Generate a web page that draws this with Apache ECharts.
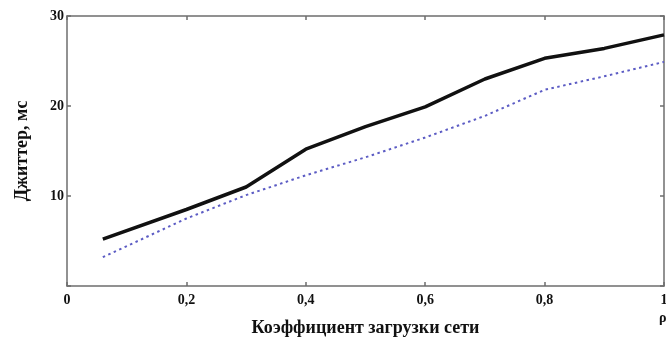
<!DOCTYPE html>
<html>
<head>
<meta charset="utf-8">
<script src="https://cdn.jsdelivr.net/npm/echarts@6/dist/echarts.min.js"></script>
<style>
  html, body { margin: 0; padding: 0; background: #fff; }
  #chart { width: 666px; height: 341px; }
</style>
</head>
<body>
<div id="chart"></div>
<script>
// load factor (x) and jitter values, ms
const rho = [0.06, 0.2, 0.3, 0.4, 0.5, 0.6, 0.7, 0.8, 0.9, 1.0]
const jitterSolid = [5.2, 8.5, 11.0, 15.2, 17.7, 19.9, 23.0, 25.3, 26.4, 27.9]
const jitterDotted = [3.2, 7.5, 10.1, 12.3, 14.3, 16.5, 18.9, 21.8, 23.3, 24.9]

const xTitle = 'Коэффициент загрузки сети'
const yTitle = 'Джиттер, мс'

const pairs = (ys) => rho.map((x, i) => [x, ys[i]])

const axisGray = '#6e6e6e'
const font = '"Liberation Serif", "DejaVu Serif", serif'

// frame axis (top / right): line + inward ticks, no labels
const frame = (extra) => Object.assign({
  type: 'value',
  axisLine: { show: true, onZero: false, lineStyle: { color: axisGray, width: 1.5 } },
  axisTick: { show: true, inside: true, length: 4, lineStyle: { color: axisGray, width: 1.5 } },
  axisLabel: { show: false },
  splitLine: { show: false },
}, extra)

const chart = echarts.init(document.getElementById('chart'))
chart.setOption({
  animation: false,
  grid: { left: 67, right: 2, top: 16, bottom: 55, outerBoundsMode: 'none' },
  xAxis: [{
    type: 'value',
    min: 0,
    max: 1,
    interval: 0.2,
    position: 'bottom',
    name: xTitle,
    nameLocation: 'middle',
    nameGap: 33,
    nameTextStyle: { fontFamily: font, fontWeight: 'bold', fontSize: 18, color: '#111' },
    axisLine: { onZero: false, lineStyle: { color: axisGray, width: 1.5 } },
    axisTick: { inside: true, length: 4, lineStyle: { color: axisGray, width: 1.5 } },
    splitLine: { show: false },
    axisLabel: {
      margin: 7,
      fontFamily: font, fontWeight: 'bold', fontSize: 14, color: '#111',
      formatter: (v) => String(+v.toFixed(1)).replace('.', ','),
    },
  }, frame({ min: 0, max: 1, interval: 0.2, position: 'top' })],
  yAxis: [{
    type: 'value',
    min: 0,
    max: 30,
    interval: 10,
    position: 'left',
    name: yTitle,
    nameLocation: 'middle',
    nameGap: 36,
    nameTextStyle: { fontFamily: font, fontWeight: 'bold', fontSize: 18, color: '#111' },
    axisLine: { show: true, onZero: false, lineStyle: { color: axisGray, width: 1.5 } },
    axisTick: { show: true, inside: true, length: 4, lineStyle: { color: axisGray, width: 1.5 } },
    splitLine: { show: false },
    axisLabel: {
      margin: 3,
      fontFamily: font, fontWeight: 'bold', fontSize: 14, color: '#111',
      formatter: (v) => (v === 0 ? '' : String(v)),
    },
  }, frame({ min: 0, max: 30, interval: 10, position: 'right' })],
  graphic: [{
    type: 'text',
    left: 659,
    top: 311,
    style: { text: 'ρ', fontFamily: font, fontWeight: 'bold', fontSize: 14, fill: '#111' },
  }],
  series: [{
    name: 'solid',
    type: 'line',
    data: pairs(jitterSolid),
    showSymbol: false,
    lineStyle: { color: '#111', width: 3.5 },
  }, {
    name: 'dotted',
    type: 'line',
    data: pairs(jitterDotted),
    showSymbol: false,
    lineStyle: { color: '#5c5cc4', width: 2, type: [2.5, 3.5] },
  }],
})
</script>
</body>
</html>
